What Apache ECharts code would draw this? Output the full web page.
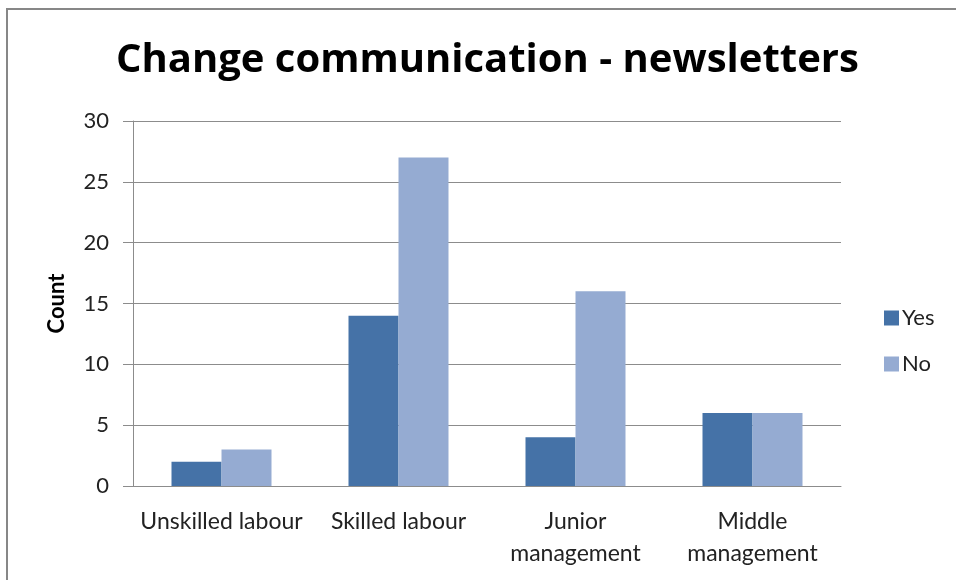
<!DOCTYPE html>
<html>
<head>
<meta charset="utf-8">
<script src="https://cdn.jsdelivr.net/npm/echarts@6/dist/echarts.min.js"></script>
<style>
  html, body { margin: 0; padding: 0; background: #fff; }
  #chart { width: 956px; height: 580px; }
</style>
</head>
<body>
<div id="chart"></div>
<script>
// Survey responses by staff level
const categories = ['Unskilled labour', 'Skilled labour', 'Junior management', 'Middle management'];
const yesValues = [2, 14, 4, 6];
const noValues = [3, 27, 16, 6];
const yTicks = { min: 0, max: 30, interval: 5 };

const FONT = 'Lato';
const chart = echarts.init(document.getElementById('chart'));

chart.setOption({
  backgroundColor: '#fff',
  animation: false,
  title: {
    text: 'Change communication - newsletters',
    left: 111,
    top: 36,
    textStyle: { fontFamily: 'Open Sans', fontWeight: 'bold', fontSize: 40, color: '#000' }
  },
  graphic: [{
    type: 'rect',
    shape: { x: 7, y: 9, width: 1000, height: 700 },
    style: { fill: 'none', stroke: '#878787', lineWidth: 2 },
    silent: true
  }],
  legend: {
    orient: 'vertical',
    left: 879,
    top: 302,
    itemWidth: 15,
    itemHeight: 15,
    itemGap: 24,
    icon: 'rect',
    textStyle: { fontFamily: FONT, fontSize: 22, color: '#222', padding: [0, 0, 0, -2] },
    data: ['Yes', 'No']
  },
  grid: { left: 133, right: 115, top: 121, bottom: 94, containLabel: false },
  xAxis: {
    type: 'category',
    data: categories,
    axisLine: { lineStyle: { color: '#8c8c8c', width: 1 } },
    axisTick: { show: false },
    axisLabel: {
      fontFamily: FONT, fontSize: 23, color: '#222', margin: 20, lineHeight: 32,
      interval: 0,
      formatter: v => v.indexOf('management') >= 0 ? v.replace(' ', '\n') : v
    },
    splitLine: { show: false }
  },
  yAxis: {
    type: 'value',
    min: yTicks.min,
    max: yTicks.max,
    interval: yTicks.interval,
    name: 'Count',
    nameLocation: 'middle',
    nameGap: 65,
    nameRotate: 90,
    nameTextStyle: { fontFamily: FONT, fontWeight: 'bold', fontSize: 22, color: '#000' },
    axisLine: { show: true, lineStyle: { color: '#8c8c8c', width: 1 } },
    axisTick: { show: true, length: 10, lineStyle: { color: '#8c8c8c' } },
    axisLabel: { fontFamily: FONT, fontSize: 22, color: '#222', margin: 24 },
    splitLine: { lineStyle: { color: '#8c8c8c', width: 1 } }
  },
  series: [
    {
      name: 'Yes', type: 'bar', data: yesValues, barWidth: 50, barGap: '0%',
      itemStyle: { color: '#4572A7' }
    },
    {
      name: 'No', type: 'bar', data: noValues, barWidth: 50, barGap: '0%',
      itemStyle: { color: '#95ABD2' }
    }
  ]
});
</script>
</body>
</html>
